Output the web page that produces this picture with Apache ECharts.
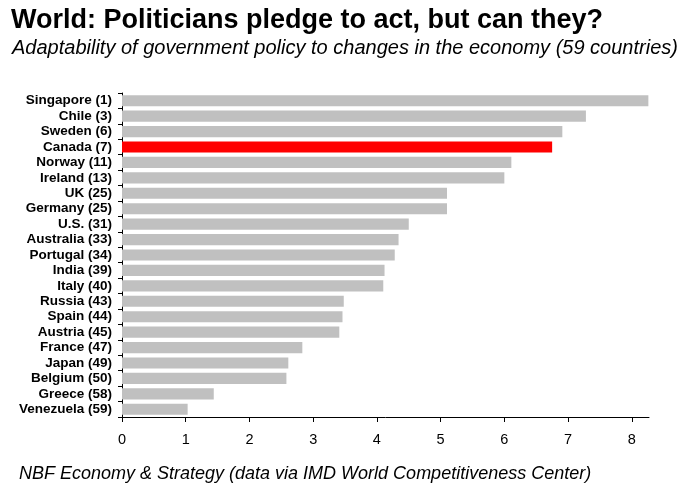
<!DOCTYPE html>
<html><head><meta charset="utf-8">
<script src="https://cdn.jsdelivr.net/npm/echarts@6/dist/echarts.min.js"></script>
<style>html,body{margin:0;padding:0;background:#fff}#c{width:687px;height:494px}</style>
</head><body><div id="c"></div>
<script>
const categories = ["Singapore (1)","Chile (3)","Sweden (6)","Canada (7)","Norway (11)","Ireland (13)","UK (25)","Germany (25)","U.S. (31)","Australia (33)","Portugal (34)","India (39)","Italy (40)","Russia (43)","Spain (44)","Austria (45)","France (47)","Japan (49)","Belgium (50)","Greece (58)","Venezuela (59)"];
const values = [8.26,7.28,6.91,6.75,6.11,6.00,5.10,5.10,4.50,4.34,4.28,4.12,4.10,3.48,3.46,3.41,2.83,2.61,2.58,1.44,1.03];
const highlight = "Canada (7)";
const xTicks = [0,1,2,3,4,5,6,7,8];
const titleText = "World: Politicians pledge to act, but can they?";
const subtitleText = "Adaptability of government policy to changes in the economy (59 countries)";
const footerText = "NBF Economy & Strategy (data via IMD World Competitiveness Center)";

const chart = echarts.init(document.getElementById('c'));
const font = "'Liberation Sans', Arial, sans-serif";
chart.setOption({
  animation: false,
  backgroundColor: '#fff',
  title: [
    {text: titleText, left: 6, top: 2, textStyle: {fontFamily: font, fontWeight: 'bold', fontSize: 27, color: '#000'}},
    {text: subtitleText, left: 7, top: 33, textStyle: {fontFamily: font, fontStyle: 'italic', fontWeight: 'normal', fontSize: 20, color: '#000'}},
    {text: footerText, left: 14, top: 460, textStyle: {fontFamily: font, fontStyle: 'italic', fontWeight: 'normal', fontSize: 18, color: '#000'}}
  ],
  grid: {left: 122, right: 38, top: 93, bottom: 77},
  xAxis: {
    type: 'value', min: 0, max: 8.27, interval: 1,
    splitLine: {show: false},
    axisLine: {show: true, lineStyle: {color: '#000', width: 1}},
    axisTick: {show: true, length: 5, lineStyle: {color: '#000'}, customValues: xTicks},
    axisLabel: {color: '#000', fontFamily: font, fontSize: 14.5, margin: 15, customValues: xTicks}
  },
  yAxis: {
    type: 'category', inverse: true, data: categories,
    axisLine: {show: true, lineStyle: {color: '#000', width: 1}},
    axisTick: {show: true, length: 4, interval: 0, alignWithLabel: false, lineStyle: {color: '#000'}},
    axisLabel: {color: '#000', fontFamily: font, fontWeight: 'bold', fontSize: 13.5, margin: 10, interval: 0}
  },
  series: [{
    type: 'bar',
    barCategoryGap: '28%',
    data: values.map((v, i) => ({value: v, itemStyle: {color: categories[i] === highlight ? '#ff0000' : '#c0c0c0'}}))
  }]
});
</script></body></html>
